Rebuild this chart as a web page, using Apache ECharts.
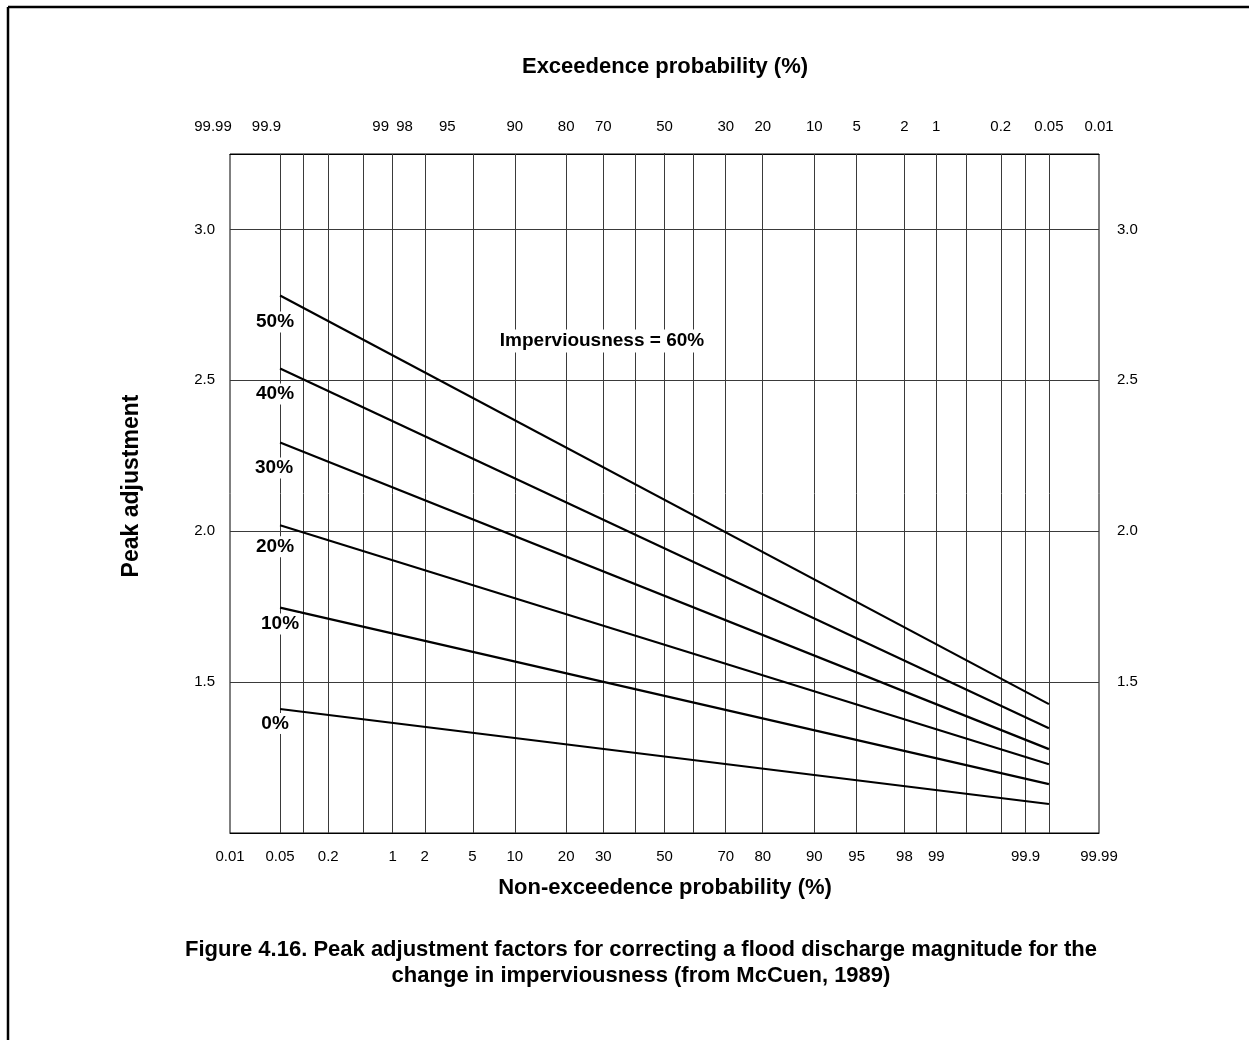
<!DOCTYPE html>
<html><head><meta charset="utf-8">
<script src="https://cdn.jsdelivr.net/npm/echarts@6/dist/echarts.min.js"></script>
<style>html,body{margin:0;padding:0;background:#fff}#c{width:1249px;height:1040px}</style>
</head><body><div id="c"></div>
<script>
// ---- data ----
const gridProbs = [0.05,0.1,0.2,0.5,1,2,5,10,20,30,40,50,60,70,80,90,95,98,99,99.5,99.8,99.9,99.95];
const bottomLabels = ['0.01','0.05','0.2','1','2','5','10','20','30','50','70','80','90','95','98','99','99.9','99.99'];
const topLabels = ['99.99','99.9','99','98','95','90','80','70','50','30','20','10','5','2','1','0.2','0.05','0.01'];
const yTickLabels = ['1.5','2.0','2.5','3.0'];
const curveNames = ['0%','10%','20%','30%','40%','50%'];
const curveProbs = [0.05, 99.95];          // non-exceedence probability (%) of line ends
const curve0  = [1.411, 1.096];
const curve10 = [1.747, 1.162];
const curve20 = [2.020, 1.228];
const curve30 = [2.294, 1.278];
const curve40 = [2.539, 1.347];
const curve50 = [2.781, 1.427];
const curves = [curve0, curve10, curve20, curve30, curve40, curve50];

// ---- normal probability scale ----
function normInv(p){
  const a=[-3.969683028665376e+01,2.209460984245205e+02,-2.759285104469687e+02,1.383577518672690e+02,-3.066479806614716e+01,2.506628277459239e+00];
  const b=[-5.447609879822406e+01,1.615858368580409e+02,-1.556989798598866e+02,6.680131188771972e+01,-1.328068155288572e+01];
  const c=[-7.784894002430293e-03,-3.223964580411365e-01,-2.400758277161838e+00,-2.549671180044671e+00,4.374664141464968e+00,2.938163982698783e+00];
  const d=[7.784695709041462e-03,3.224671290700398e-01,2.445134137142996e+00,3.754408661907416e+00];
  const pl=0.02425, ph=1-pl; let q,r;
  if(p<pl){q=Math.sqrt(-2*Math.log(p));return (((((c[0]*q+c[1])*q+c[2])*q+c[3])*q+c[4])*q+c[5])/((((d[0]*q+d[1])*q+d[2])*q+d[3])*q+1);}
  if(p<=ph){q=p-0.5;r=q*q;return (((((a[0]*r+a[1])*r+a[2])*r+a[3])*r+a[4])*r+a[5])*q/(((((b[0]*r+b[1])*r+b[2])*r+b[3])*r+b[4])*r+1);}
  q=Math.sqrt(-2*Math.log(1-p));return -(((((c[0]*q+c[1])*q+c[2])*q+c[3])*q+c[4])*q+c[5])/((((d[0]*q+d[1])*q+d[2])*q+d[3])*q+1);
}
const zOf = pct => normInv(pct/100);
const xMin = zOf(0.01), xMax = zOf(99.99);

const bottomVals = bottomLabels.map(s => zOf(parseFloat(s)));
const topVals = topLabels.map(s => zOf(100 - parseFloat(s)));
function nearestIndex(vals, v){
  let bi=0, bd=1e9; vals.forEach((x,i)=>{const d=Math.abs(x-v); if(d<bd){bd=d;bi=i;}}); return bi;
}

// ---- styles ----
const FONT = 'Liberation Sans, Arial, sans-serif';
const labelOffsets = [[-5,4],[0,6],[-5,11],[-6,15],[-5,15],[-5,16]];
const gridColor = '#3a3a3a';
// horizontal nudges (px) of the top labels as placed in the original drawing
const topLabelShift = [-17,-37,-12,-20,-25,0,0,0,0,0,0,0,0,0,0,0,0,0];
const topRich = {};
topLabelShift.forEach((s, i) => {
  topRich['t' + i] = {fontFamily: FONT, fontSize: 15, color: '#000',
    padding: s < 0 ? [0, -2 * s, 0, 0] : [0, 0, 0, 2 * s]};
});

const series = curves.map((c, i) => ({
  type: 'line', name: curveNames[i], xAxisIndex: 0, yAxisIndex: 0,
  data: curveProbs.map((p, k) => [zOf(p), c[k]]),
  symbol: 'none', silent: true, z: 5,
  lineStyle: {color: '#000', width: 2.2}
}));
series.push({
  type: 'scatter', xAxisIndex: 0, yAxisIndex: 0, symbolSize: 0, silent: true, z: 6,
  itemStyle: {color: '#000', opacity: 1},
  data: curves.map((c, i) => ({
    value: [zOf(curveProbs[0]), c[0]],
    label: {show: true, formatter: curveNames[i], position: 'bottom', distance: 0, offset: labelOffsets[i],
      fontFamily: FONT, fontWeight: 'bold', fontSize: 19, color: '#000', textBorderWidth: 0, opacity: 1,
      backgroundColor: '#fff', padding: [1, 1]}
  })),
  markLine: {
    silent: true, symbol: 'none', label: {show: false}, animation: false,
    lineStyle: {type: 'solid', color: gridColor, width: 1},
    data: gridProbs.map(p => ({xAxis: zOf(p)}))
  }
});

const option = {
  animation: false,
  backgroundColor: '#fff',
  grid: {left: 230, right: 150, top: 154, bottom: 207, show: true, borderColor: '#000', borderWidth: 1},
  xAxis: [
    {type: 'value', position: 'bottom', min: xMin, max: xMax,
     axisLine: {show: true, lineStyle: {color: '#000'}}, axisTick: {show: false}, splitLine: {show: false},
     axisLabel: {customValues: bottomVals, formatter: v => bottomLabels[nearestIndex(bottomVals, v)],
       fontFamily: FONT, fontSize: 15, color: '#000', margin: 16, showMinLabel: true, showMaxLabel: true}},
    {type: 'value', position: 'top', min: xMin, max: xMax,
     axisLine: {show: true, lineStyle: {color: '#000'}}, axisTick: {show: false}, splitLine: {show: false},
     axisLabel: {customValues: topVals,
       formatter: v => { const i = nearestIndex(topVals, v); return '{t' + i + '|' + topLabels[i] + '}'; },
       rich: topRich,
       fontFamily: FONT, fontSize: 15, color: '#000', margin: 20, showMinLabel: true, showMaxLabel: true}}
  ],
  yAxis: [
    {type: 'value', position: 'left', min: 1.0, max: 3.25, interval: 0.5,
     axisLine: {show: true, lineStyle: {color: '#000'}}, axisTick: {show: false},
     splitLine: {show: true, lineStyle: {color: gridColor, width: 1}},
     axisLabel: {formatter: v => { const s = v.toFixed(1); return yTickLabels.includes(s) ? s : ''; },
       fontFamily: FONT, fontSize: 15, color: '#000', margin: 15}},
    {type: 'value', position: 'right', min: 1.0, max: 3.25, interval: 0.5,
     axisLine: {show: true, lineStyle: {color: '#000'}}, axisTick: {show: false}, splitLine: {show: false},
     axisLabel: {formatter: v => { const s = v.toFixed(1); return yTickLabels.includes(s) ? s : ''; },
       fontFamily: FONT, fontSize: 15, color: '#000', margin: 18}}
  ],
  graphic: [
    {type: 'line', shape: {x1: 8, y1: 7, x2: 1249, y2: 7}, style: {stroke: '#000', lineWidth: 2.5}},
    {type: 'line', shape: {x1: 8, y1: 7, x2: 8, y2: 1040}, style: {stroke: '#000', lineWidth: 2.5}},
    {type: 'text', x: 665, y: 67, style: {text: 'Exceedence probability (%)', font: 'bold 22px ' + FONT, fill: '#000', align: 'center', verticalAlign: 'middle'}},
    {type: 'text', x: 665, y: 888, style: {text: 'Non-exceedence probability (%)', font: 'bold 22px ' + FONT, fill: '#000', align: 'center', verticalAlign: 'middle'}},
    {type: 'text', x: 132, y: 486, rotation: Math.PI / 2, style: {text: 'Peak adjustment', font: 'bold 23px ' + FONT, fill: '#000', align: 'center', verticalAlign: 'middle'}},
    {type: 'text', x: 602, y: 341, z: 10, style: {text: 'Imperviousness = 60%', font: 'bold 19px ' + FONT, fill: '#000', align: 'center', verticalAlign: 'middle', backgroundColor: '#fff', padding: [2, 2]}},
    {type: 'text', x: 641, y: 950, style: {text: 'Figure 4.16. Peak adjustment factors for correcting a flood discharge magnitude for the', font: 'bold 22px ' + FONT, fill: '#000', align: 'center', verticalAlign: 'middle'}},
    {type: 'text', x: 641, y: 976, style: {text: 'change in imperviousness (from McCuen, 1989)', font: 'bold 22px ' + FONT, fill: '#000', align: 'center', verticalAlign: 'middle'}}
  ],
  series: series
};
const chart = echarts.init(document.getElementById('c'), null, {renderer: 'canvas'});
chart.setOption(option);
</script></body></html>
